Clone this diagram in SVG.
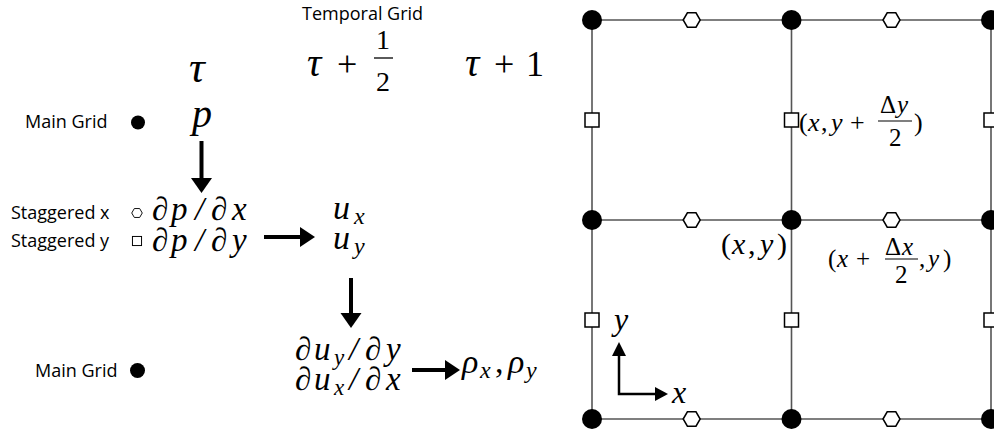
<svg xmlns="http://www.w3.org/2000/svg" width="994" height="437" viewBox="0 0 994 437">
<style>
.lbl{font-family:"Open Sans","Noto Sans",sans-serif;font-size:18px;fill:#000}
.m{font-family:"Liberation Serif","DejaVu Serif",serif;fill:#000}
.i{font-style:italic}
.u{font-style:normal}
.grid{stroke:#555;stroke-width:1.6;fill:none}
.dot{fill:#000}
.open{fill:#fff;stroke:#000;stroke-width:1.5}
.arr{stroke:#000;stroke-width:4;fill:none}
.ax{stroke:#000;stroke-width:2.5;fill:none}
.head{fill:#000}
</style>
<defs>
<polygon id="hex" points="-8.5,0 -4.3,-7.2 4.3,-7.2 8.5,0 4.3,7.2 -4.3,7.2"/>
<rect id="sq" x="-7" y="-7" width="14" height="14"/>
</defs>

<g id="title"><text class="lbl" x="302" y="20" font-size="17">Temporal Grid</text></g>
<g id="tau0"><text class="m i" x="189" y="82" font-size="44">τ</text></g>
<g id="tau-half">
<text class="m i" x="307" y="76" font-size="40">τ</text>
<text class="m" x="337" y="76" font-size="36">+</text>
<text class="m" x="376" y="49" font-size="28">1</text>
<line x1="374" y1="58" x2="393" y2="58" stroke="#000" stroke-width="1.3"/>
<text class="m" x="376" y="91" font-size="28">2</text>
</g>
<g id="tau-one">
<text class="m i" x="465" y="76" font-size="40">τ</text>
<text class="m" x="494" y="76" font-size="36">+</text>
<text class="m" x="526" y="76" font-size="36">1</text>
</g>

<g id="main-grid-1">
<text class="lbl" x="25" y="128">Main Grid</text>
<circle class="dot" cx="138" cy="122.5" r="7"/>
</g>
<g id="p"><text class="m i" x="192" y="127" font-size="40">p</text></g>

<g id="stag-x">
<text class="lbl" x="11" y="219">Staggered x</text>
<use href="#hex" class="open" transform="translate(137,213) scale(0.62)"/>
<text class="m i" y="220" font-size="33"><tspan x="152">∂</tspan><tspan x="171">p</tspan><tspan x="195">/</tspan><tspan x="211">∂</tspan><tspan x="232">x</tspan></text>
</g>
<g id="stag-y">
<text class="lbl" x="11" y="247">Staggered y</text>
<use href="#sq" class="open" transform="translate(137,241) scale(0.65)"/>
<text class="m i" y="251" font-size="33"><tspan x="152">∂</tspan><tspan x="171">p</tspan><tspan x="195">/</tspan><tspan x="211">∂</tspan><tspan x="232">y</tspan></text>
</g>

<g id="u">
<text class="m i" y="219" font-size="34"><tspan x="333">u</tspan><tspan x="354" font-size="24" dy="5">x</tspan></text>
<text class="m i" y="249" font-size="34"><tspan x="333">u</tspan><tspan x="354" font-size="24" dy="5">y</tspan></text>
</g>

<g id="div">
<text class="m i" y="360" font-size="33"><tspan x="295">∂</tspan><tspan x="314">u</tspan><tspan x="334" font-size="23" dy="5">y</tspan><tspan x="349" dy="-5">/</tspan><tspan x="365">∂</tspan><tspan x="386">y</tspan></text>
<text class="m i" y="390" font-size="33"><tspan x="295">∂</tspan><tspan x="314">u</tspan><tspan x="334" font-size="23" dy="5">x</tspan><tspan x="349" dy="-5">/</tspan><tspan x="365">∂</tspan><tspan x="386">x</tspan></text>
</g>
<g id="rho">
<text class="m i" y="373" font-size="34"><tspan x="462">ρ</tspan><tspan x="480" font-size="24" dy="5">x</tspan><tspan x="495" dy="-5" class="u">,</tspan><tspan x="508">ρ</tspan><tspan x="526" font-size="24" dy="5">y</tspan></text>
</g>

<g id="main-grid-2">
<text class="lbl" x="35" y="377">Main Grid</text>
<circle class="dot" cx="137.5" cy="370.5" r="7.5"/>
</g>

<g id="connectors">
<line class="arr" x1="201.5" y1="141" x2="201.5" y2="179"/>
<polygon class="head" points="191,178 212,178 201.5,193"/>
<line class="arr" x1="264" y1="237" x2="301" y2="237"/>
<polygon class="head" points="300,227 300,247 315,237"/>
<line class="arr" x1="351" y1="278" x2="351" y2="314"/>
<polygon class="head" points="340.5,313 361.5,313 351,328"/>
<line class="arr" x1="412" y1="370" x2="446" y2="370"/>
<polygon class="head" points="445,360 445,380 460,370"/>
</g>

<g id="grid">
<line class="grid" x1="592" y1="20" x2="994" y2="20"/>
<line class="grid" x1="592" y1="220" x2="994" y2="220"/>
<line class="grid" x1="592" y1="419" x2="994" y2="419"/>
<line class="grid" x1="592" y1="20" x2="592" y2="419"/>
<line class="grid" x1="791.5" y1="20" x2="791.5" y2="419"/>
<line class="grid" x1="991" y1="20" x2="991" y2="419"/>
</g>
<g id="grid-nodes">
<circle class="dot" cx="592" cy="20" r="10"/>
<circle class="dot" cx="791.5" cy="20" r="10"/>
<circle class="dot" cx="991" cy="20" r="10"/>
<circle class="dot" cx="592" cy="220" r="10"/>
<circle class="dot" cx="791.5" cy="220" r="10"/>
<circle class="dot" cx="991" cy="220" r="10"/>
<circle class="dot" cx="592" cy="419" r="10"/>
<circle class="dot" cx="791.5" cy="419" r="10"/>
<circle class="dot" cx="991" cy="419" r="10"/>
<use href="#hex" class="open" x="691.7" y="20"/>
<use href="#hex" class="open" x="891.5" y="20"/>
<use href="#hex" class="open" x="691.7" y="220"/>
<use href="#hex" class="open" x="891.5" y="220"/>
<use href="#hex" class="open" x="691.7" y="419"/>
<use href="#hex" class="open" x="891.5" y="419"/>
<use href="#sq" class="open" x="592" y="120"/>
<use href="#sq" class="open" x="791.5" y="120"/>
<use href="#sq" class="open" x="991" y="120"/>
<use href="#sq" class="open" x="592" y="320"/>
<use href="#sq" class="open" x="791.5" y="320"/>
<use href="#sq" class="open" x="991" y="320"/>
</g>

<g id="label-xy-half">
<text class="m" y="131" font-size="26"><tspan x="799">(</tspan><tspan class="i" x="808">x</tspan><tspan x="821">,</tspan><tspan class="i" x="831">y</tspan><tspan x="850">+</tspan></text>
<text class="m" y="113" font-size="25"><tspan x="880">Δ</tspan><tspan class="i" x="897">y</tspan></text>
<line x1="878" y1="121" x2="912" y2="121" stroke="#000" stroke-width="1.1"/>
<text class="m" x="889" y="146" font-size="25">2</text>
<text class="m" x="914" y="131" font-size="26">)</text>
</g>
<g id="label-xy">
<text class="m" y="254" font-size="30"><tspan x="721">(</tspan><tspan class="i" x="732">x</tspan><tspan x="748">,</tspan><tspan class="i" x="760">y</tspan><tspan x="777">)</tspan></text>
</g>
<g id="label-x-half">
<text class="m" y="267" font-size="25"><tspan x="828">(</tspan><tspan class="i" x="837">x</tspan><tspan x="856">+</tspan></text>
<text class="m" y="255" font-size="25"><tspan x="885">Δ</tspan><tspan class="i" x="902">x</tspan></text>
<line x1="885" y1="259" x2="918" y2="259" stroke="#000" stroke-width="1.1"/>
<text class="m" x="895" y="283" font-size="25">2</text>
<text class="m" y="267" font-size="25"><tspan x="919">,</tspan><tspan class="i" x="928">y</tspan><tspan x="943">)</tspan></text>
</g>

<g id="axes">
<polyline class="ax" points="619,354 619,394 657,394"/>
<polygon class="head" points="612,356 626,356 619,342"/>
<polygon class="head" points="655,387 655,401 668,394"/>
<text class="m i" x="614" y="330" font-size="32">y</text>
<text class="m i" x="672" y="403" font-size="32">x</text>
</g>
</svg>
